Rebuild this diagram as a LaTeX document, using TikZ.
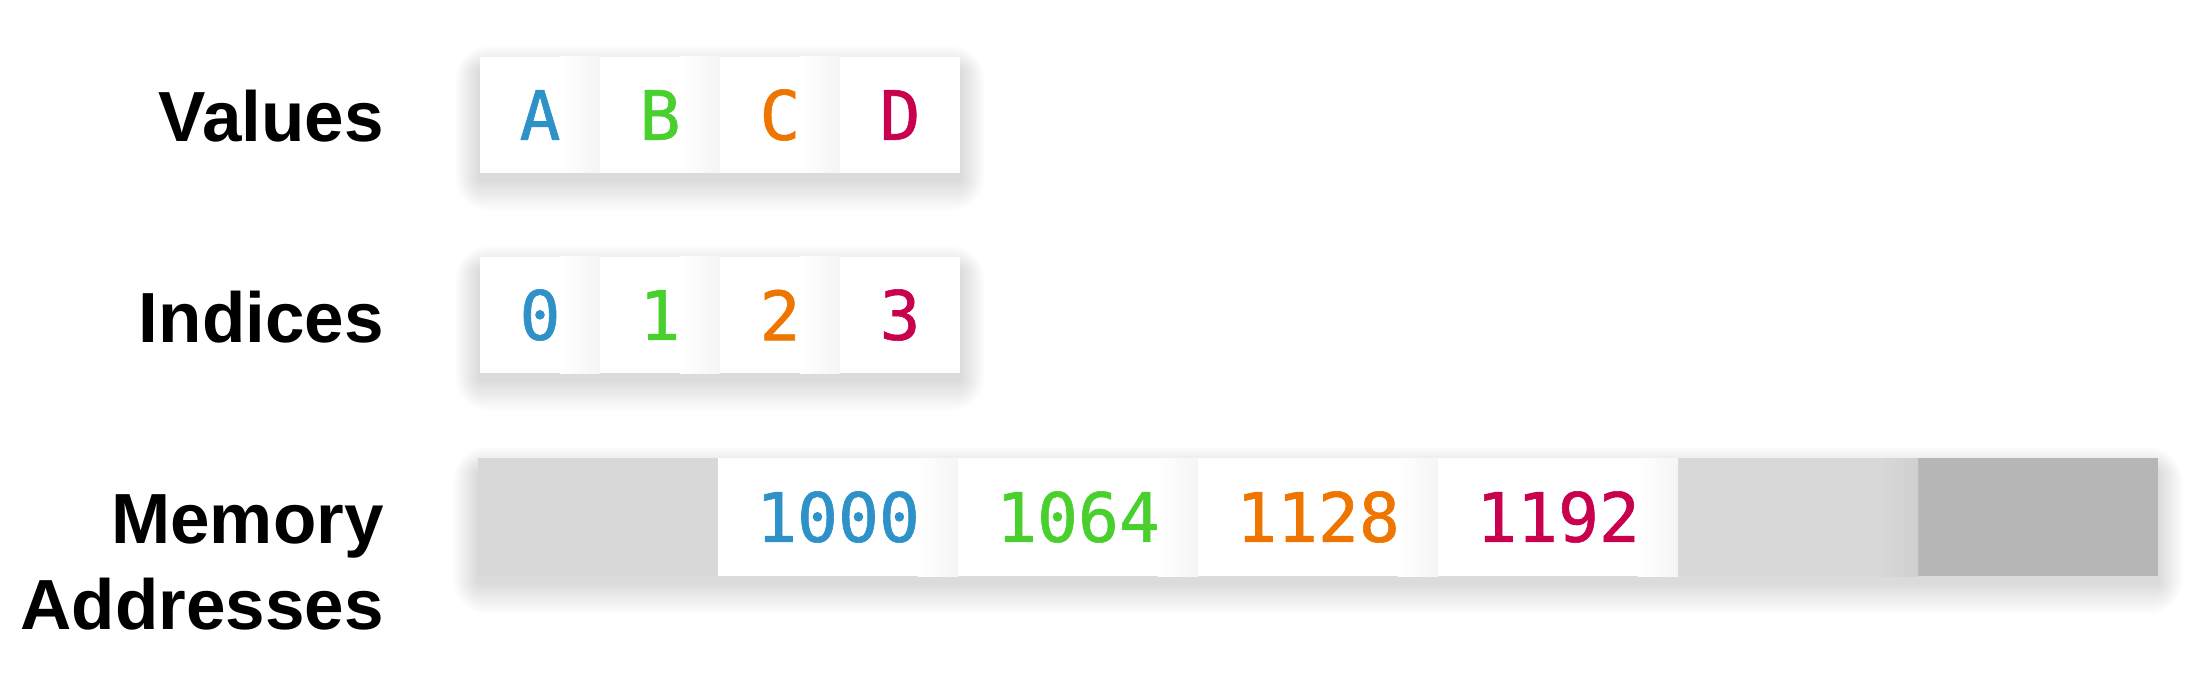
\documentclass[tikz,border=0pt]{standalone}
\usepackage{fontspec}
\setmainfont{Liberation Sans}
\newfontfamily\cellfont[FakeBold=0.9]{DejaVu Sans Mono}
\definecolor{cblue}{HTML}{2E91C8}
\definecolor{cgreen}{HTML}{4AD02E}
\definecolor{corange}{HTML}{EE7600}
\definecolor{cred}{HTML}{C8004E}
\definecolor{glight}{HTML}{D8D8D8}
\definecolor{gdark}{HTML}{B6B6B6}
% soft shadow under a row: x0 y0 x1 y1 (px, y downward)
\newcommand\rowshadow[4]{%
  \foreach \r in {2,4,...,36}{%
    \fill[black,opacity=0.0065,rounded corners=\r*0.5pt]
      ({#1-\r*0.7},{#2+14-\r*0.7}) rectangle ({#3+\r*0.7},{#4+6+\r*0.9});}
}
% faint shadow cast by a cell onto its left neighbour: xb top bottom colour
\newcommand\edgeshade[4]{%
  \shade[left color=#4,right color=#4!96!black] ({#1-40},#2) rectangle (#1,#3);
}
\newcommand\mkcell[8]{%
  \node[cellbox,fill=#6,text=#7,minimum width=#4*0.5pt,minimum height=#5*0.5pt] (#1) at (#2,#3) {#8};
}
\begin{document}
\begin{tikzpicture}[x=0.5pt,y=-0.5pt,
  rowlabel/.style={font=\fontsize{35.5}{42}\selectfont\bfseries,anchor=base east,inner sep=0pt},
  cellbox/.style={draw=none,inner sep=0pt,font=\fontsize{34}{40}\selectfont\cellfont}]
\useasboundingbox (0,0) rectangle (2200,684);
\node[rowlabel] (lvalues) at (384,142) {Values};
\node[rowlabel] (lindices) at (384,343) {Indices};
\node[rowlabel] (lmem1) at (384,543) {Memory};
\node[rowlabel] (lmem2) at (384,629) {Addresses};
% shadows
\rowshadow{480}{57}{960}{173}
\rowshadow{480}{257}{960}{373}
\rowshadow{478}{458}{2158}{576}
% values
\mkcell{vA}{540}{115}{120}{116}{white}{cblue}{A}
\mkcell{vB}{660}{115}{120}{116}{white}{cgreen}{B}
\mkcell{vC}{780}{115}{120}{116}{white}{corange}{C}
\mkcell{vD}{900}{115}{120}{116}{white}{cred}{D}
% indices
\mkcell{i0}{540}{315}{120}{116}{white}{cblue}{0}
\mkcell{i1}{660}{315}{120}{116}{white}{cgreen}{1}
\mkcell{i2}{780}{315}{120}{116}{white}{corange}{2}
\mkcell{i3}{900}{315}{120}{116}{white}{cred}{3}
% memory
\mkcell{m0}{598}{517}{240}{118}{glight}{black}{}
\mkcell{m1}{838}{517}{240}{118}{white}{cblue}{1000}
\mkcell{m2}{1078}{517}{240}{118}{white}{cgreen}{1064}
\mkcell{m3}{1318}{517}{240}{118}{white}{corange}{1128}
\mkcell{m4}{1558}{517}{240}{118}{white}{cred}{1192}
\mkcell{m5}{1798}{517}{240}{118}{glight}{black}{}
\mkcell{m6}{2038}{517}{240}{118}{gdark}{black}{}
% edge shading between cells
\foreach \xb in {600,720,840}{\edgeshade{\xb}{57}{173}{white}\edgeshade{\xb}{257}{373}{white}}
\foreach \xb in {958,1198,1438,1678}{\edgeshade{\xb}{458}{576}{white}}
\edgeshade{1918}{458}{576}{glight}
\end{tikzpicture}
\end{document}
